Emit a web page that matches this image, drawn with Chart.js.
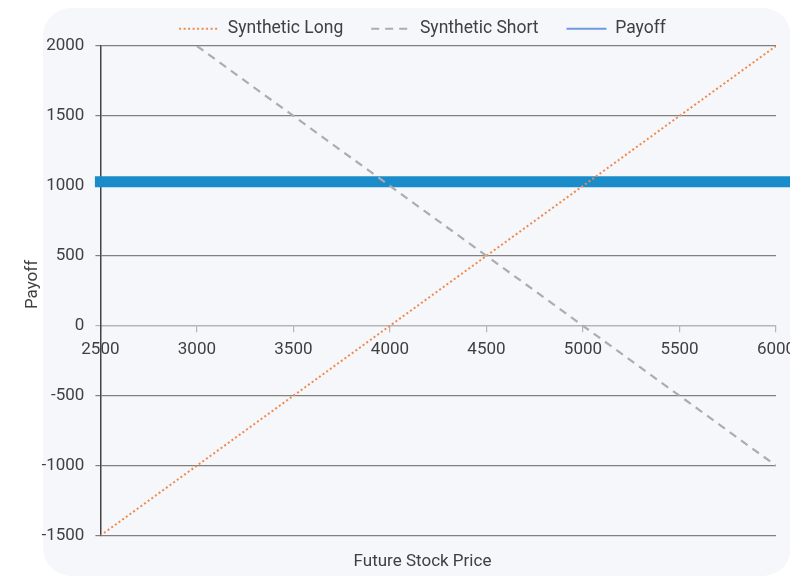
<!DOCTYPE html>
<html>
<head>
<meta charset="utf-8">
<title>Synthetic positions payoff</title>
<script src="https://cdn.jsdelivr.net/npm/chart.js@4/dist/chart.umd.min.js"></script>
<style>
  html, body { margin: 0; padding: 0; background: #ffffff; overflow: hidden; }
  #wrap { position: relative; width: 845px; height: 577px; }
  #card {
    position: absolute; left: 43px; top: 8px; width: 748px; height: 568px;
    background: #f6f7fb; border-radius: 28px;
  }
  #chart { position: absolute; left: 0; top: 0; }
</style>
</head>
<body>
<div id="wrap">
  <div id="card"></div>
  <canvas id="chart" width="845" height="577"></canvas>
</div>
<script>
// Precio futuro de la acción (eje X) y valores de cada serie
const prices = [2500, 3000, 3500, 4000, 4500, 5000, 5500, 6000];
const longValues = [-1500, -1000, -500, 0, 500, 1000, 1500, 2000];
const shortValues = [null, 2000, 1500, 1000, 500, 0, -500, -1000];
// la línea de payoff sigue más allá del borde derecho del gráfico
const payoffPrices = [2500, 6500];
const payoffValues = [1030, 1030];

const xTicks = [2500, 3000, 3500, 4000, 4500, 5000, 5500, 6000];
const yTicks = [-1500, -1000, -500, 0, 500, 1000, 1500, 2000];

const textColor = '#404040';
const font = { family: 'Roboto', size: 17 };

const toPoints = (xs, ys) => xs.map((x, i) => ({ x, y: ys[i] }));
const plain = v => String(v);

const ctx = document.getElementById('chart').getContext('2d');
new Chart(ctx, {
  type: 'line',
  data: {
    datasets: [
      {
        label: 'Synthetic Long',
        data: toPoints(prices, longValues),
        borderColor: '#f08a4b',
        borderWidth: 2,
        borderDash: [2, 2.5],
        pointRadius: 0
      },
      {
        label: 'Synthetic Short',
        data: toPoints(prices, shortValues),
        borderColor: '#adadad',
        borderWidth: 2.2,
        borderDash: [8, 6],
        pointRadius: 0
      },
      {
        label: 'Payoff',
        data: toPoints(payoffPrices, payoffValues),
        borderColor: '#1a8cc9',
        borderWidth: 11,
        borderCapStyle: 'square',
        pointRadius: 0,
        clip: false
      }
    ]
  },
  options: {
    responsive: false,
    animation: false,
    layout: { padding: { top: -8, left: 0, right: 0, bottom: 0 } },
    plugins: {
      tooltip: { enabled: false },
      legend: {
        position: 'top',
        maxHeight: 54,
        labels: {
          usePointStyle: true,
          pointStyleWidth: 40,
          padding: 28,
          font: { family: 'Roboto', size: 17.5 },
          color: textColor,
          generateLabels(chart) {
            const items = Chart.defaults.plugins.legend.labels.generateLabels(chart);
            return items.map(item => {
              const ds = chart.data.datasets[item.datasetIndex];
              item.pointStyle = 'line';
              item.lineWidth = 2;
              item.lineDash = ds.borderDash || [];
              item.strokeStyle = item.text === 'Payoff' ? '#6f9ade' : ds.borderColor;
              return item;
            });
          }
        }
      },
      title: {
        display: true,
        text: 'Payoff',
        position: 'left',
        font: { ...font, weight: 'normal' },
        color: textColor,
        padding: { top: 23, bottom: -2 }
      },
      subtitle: {
        display: true,
        text: 'Future Stock Price',
        position: 'bottom',
        font: { ...font, weight: 'normal' },
        color: textColor,
        padding: { top: 16, bottom: 5 }
      }
    },
    scales: {
      x: {
        type: 'linear',
        min: 2500,
        max: 6000,
        display: false
      },
      // eje de etiquetas cruzando en y = 0
      xZero: {
        type: 'linear',
        axis: 'x',
        position: { y: 0 },
        min: 2500,
        max: 6000,
        afterBuildTicks: s => { s.ticks = xTicks.map(v => ({ value: v })); },
        grid: { drawOnChartArea: false, tickLength: 6, color: '#b5b5b5', lineWidth: 1.2 },
        border: { color: '#b5b5b5', width: 1.2 },
        ticks: { font, color: textColor, padding: 8, maxRotation: 0, callback: plain }
      },
      y: {
        type: 'linear',
        position: 'left',
        min: -1500,
        max: 2000,
        afterBuildTicks: s => { s.ticks = yTicks.map(v => ({ value: v })); },
        afterFit: s => { s.width = 59; },
        grid: {
          color: c => (c.tick && c.tick.value === 0 ? '#b5b5b5' : '#808080'),
          lineWidth: 1.2,
          tickLength: 5
        },
        border: { color: '#444444', width: 1.5 },
        ticks: { font, color: textColor, padding: 11, callback: plain }
      },
      // espacio libre a la derecha del área del gráfico
      yPad: {
        type: 'linear',
        position: 'right',
        grid: { display: false },
        border: { display: false },
        ticks: { display: false },
        afterFit: s => { s.width = 69; }
      }
    }
  }
});
</script>
</body>
</html>
